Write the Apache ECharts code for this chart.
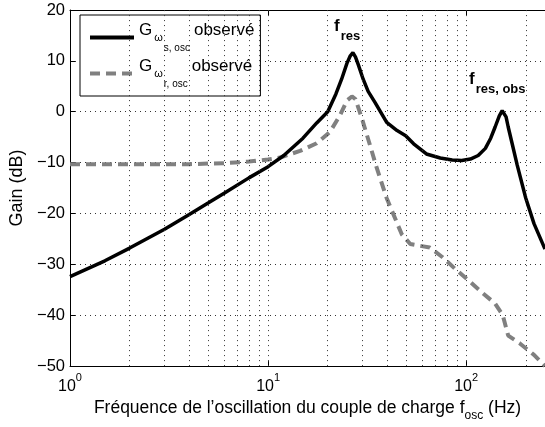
<!DOCTYPE html>
<html>
<head>
<meta charset="utf-8">
<script src="https://cdn.jsdelivr.net/npm/echarts@6/dist/echarts.min.js"></script>
<style>
  html, body { margin: 0; padding: 0; background: #fff; }
  #main { width: 545px; height: 427px; }
</style>
</head>
<body>
<div id="main"></div>
<script>
// G_ws,osc observé (trait plein noir) : fréquence (Hz), gain (dB)
var freqS = [1, 1.5, 2, 3, 4, 5, 6, 8, 10, 12, 15, 17.6, 20, 22, 23.5, 25, 26, 26.8, 27.6, 28.5, 30.2, 32, 34.7, 39.7, 44.8, 49.5, 54.3, 63, 74, 85, 95, 105, 115, 125, 133, 140, 147, 152, 155, 159, 163, 170, 181, 200, 220, 250];
var gainS = [-32.4, -29.3, -26.8, -23.1, -20.2, -17.9, -16, -13, -10.8, -8.6, -5.2, -2.2, 0, 3.5, 6.4, 9.5, 11, 11.6, 10.8, 9.3, 6.4, 4, 1.8, -2.1, -3.7, -4.7, -6.3, -8.3, -9.1, -9.5, -9.6, -9.3, -8.6, -7.2, -5.2, -3, -0.8, 0.2, 0.3, -1, -3, -6, -10.5, -17, -22, -27];
// G_wr,osc observé (tirets gris)
var freqR = [1, 2, 4, 6, 8, 10, 11.5, 14.5, 17.6, 20.5, 23, 25, 26.5, 27.6, 29.8, 32.3, 35.4, 39.7, 43.7, 47.3, 52.2, 65.5, 76, 88, 103, 120, 140, 153, 163, 186, 220, 250];
var gainR = [-10.3, -10.3, -10.3, -10.1, -9.8, -9.4, -9, -7.7, -6.2, -4, -0.8, 2.2, 3, 2.5, -1.4, -5.9, -11.1, -17, -20.9, -24.1, -26, -26.7, -28.6, -30.9, -33.2, -35.5, -37.7, -40, -44, -45.5, -47.8, -50];
// grille verticale (échelle log)
var gridX = [2, 3, 4, 5, 6, 7, 8, 9, 10, 20, 30, 40, 50, 60, 70, 80, 90, 100, 200];
var xMin = 1, xMax = 250;
var yMin = -50, yMax = 20, yStep = 10;

var font = 'Liberation Sans';
function pairs(xs, ys) {
    return xs.map(function (x, i) { return [x, ys[i]]; });
}
var gridStyle = { color: '#333', width: 1, type: [1, 4] };
var annotRich = {
    f: { fontSize: 17, fontWeight: 'bold', fontFamily: font, fill: '#000', verticalAlign: 'top' },
    r: { fontSize: 13, fontWeight: 'bold', fontFamily: font, fill: '#000', verticalAlign: 'top', padding: [12, 0, 0, 1] }
};

var myChart = echarts.init(document.getElementById('main'));
var option = {
    animation: false,
    backgroundColor: '#fff',
    textStyle: { fontFamily: font, color: '#000' },
    grid: { left: 70, right: 0, top: 10, bottom: 57 },
    legend: {
        orient: 'vertical',
        left: 80, top: 15,
        padding: [7, 6, 7, 8],
        itemGap: 5,
        itemWidth: 44, itemHeight: 14,
        borderColor: '#000', borderWidth: 1,
        backgroundColor: '#fff',
        itemStyle: { opacity: 0 },
        data: [
            { name: 's', lineStyle: { width: 4 } },
            { name: 'r', lineStyle: { width: 4, type: [10, 6] } }
        ],
        formatter: function (name) {
            return '{g|G}{w|ω}{s|' + name + ', osc}{o|observé}';
        },
        textStyle: {
            fontFamily: font,
            rich: {
                g: { fontSize: 17, verticalAlign: 'top', padding: [0, 0, 0, 0], color: '#000' },
                w: { fontSize: 11, verticalAlign: 'top', padding: [10, 0, 0, 2], color: '#000' },
                s: { fontSize: 10, verticalAlign: 'top', padding: [21, 0, 0, 1], color: '#000' },
                o: { fontSize: 17, verticalAlign: 'top', padding: [0, 0, 0, 4], color: '#000' }
            }
        }
    },
    xAxis: [{
        type: 'log', logBase: 10, min: xMin, max: xMax,
        name: '{t|Fréquence de l’oscillation du couple de charge f}{sub|osc}{t| (Hz)}',
        nameLocation: 'middle', nameGap: 31,
        nameTextStyle: {
            rich: {
                t: { fontSize: 17.5, fontFamily: font, color: '#000', verticalAlign: 'top' },
                sub: { fontSize: 12, fontFamily: font, color: '#000', verticalAlign: 'top', padding: [11, 0, 0, 0] }
            }
        },
        axisLine: { show: true, onZero: false, lineStyle: { color: '#000', width: 1 } },
        axisTick: { inside: true, length: 5, lineStyle: { color: '#000' } },
        splitLine: { show: false },
        axisLabel: {
            margin: 6,
            showMaxLabel: false,
            formatter: function (v) {
                return '{b|10}{e|' + Math.round(Math.log10(v)) + '}';
            },
            rich: {
                b: { fontSize: 16, fontFamily: font, color: '#000', verticalAlign: 'top', padding: [6, 0, 0, 0] },
                e: { fontSize: 11, fontFamily: font, color: '#000', verticalAlign: 'top' }
            }
        }
    }, {
        type: 'log', logBase: 10, min: xMin, max: xMax, position: 'top',
        axisLine: { show: true, onZero: false, lineStyle: { color: '#000', width: 1 } },
        axisTick: { inside: true, length: 5, lineStyle: { color: '#000' } },
        axisLabel: { show: false },
        splitLine: { show: false }
    }],
    yAxis: {
        type: 'value', min: yMin, max: yMax, interval: yStep,
        name: 'Gain (dB)', nameLocation: 'middle', nameGap: 43,
        nameTextStyle: { fontSize: 18, fontFamily: font, color: '#000' },
        axisLine: { show: true, lineStyle: { color: '#000', width: 1 } },
        axisTick: { inside: true, length: 5, lineStyle: { color: '#000' } },
        axisLabel: {
            fontSize: 16.5, color: '#000', margin: 5,
            formatter: function (v) { return String(v).replace('-', '\u2212'); }
        },
        splitLine: { show: true, lineStyle: gridStyle }
    },
    graphic: [{
        type: 'text', left: 334, top: 18, z: 10,
        style: { text: '{f|f}{r|res}', rich: annotRich }
    }, {
        type: 'text', left: 469, top: 71, z: 10,
        style: { text: '{f|f}{r|res, obs}', rich: annotRich }
    }],
    series: [{
        name: 'grid', type: 'line', data: [], z: 1, silent: true,
        markLine: {
            silent: true, symbol: 'none', label: { show: false },
            lineStyle: gridStyle,
            data: gridX.map(function (x) { return { xAxis: x }; })
        }
    }, {
        name: 's', type: 'line', data: pairs(freqS, gainS), z: 4,
        showSymbol: false, symbol: 'none',
        lineStyle: { color: '#000', width: 3.5 },
        itemStyle: { color: '#000' }
    }, {
        name: 'r', type: 'line', data: pairs(freqR, gainR), z: 3,
        showSymbol: false, symbol: 'none',
        lineStyle: { color: '#808080', width: 4, type: [10, 6] },
        itemStyle: { color: '#808080' }
    }]
};
myChart.setOption(option);
</script>
</body>
</html>
